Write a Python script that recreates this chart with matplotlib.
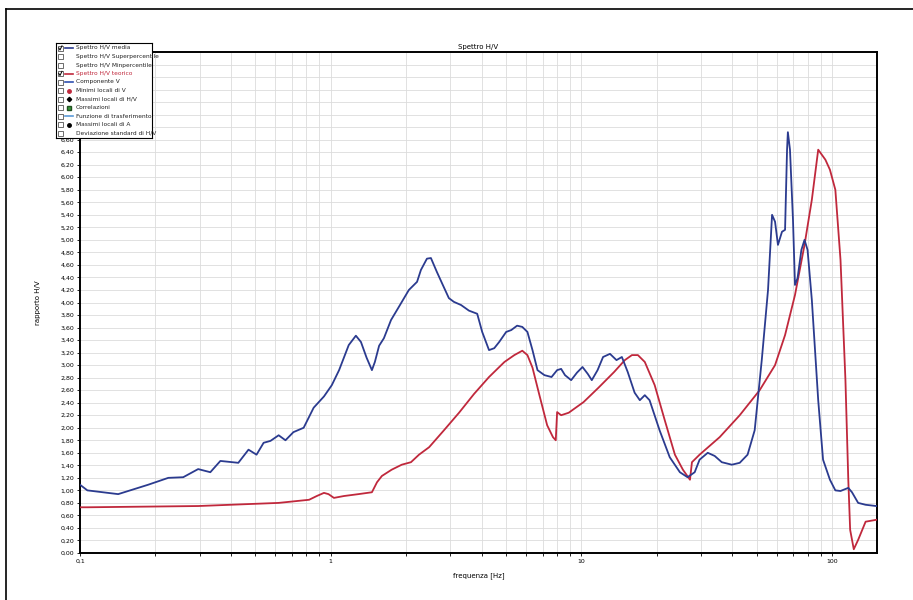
import matplotlib
matplotlib.use("Agg")
import matplotlib.pyplot as plt
from matplotlib.ticker import FixedLocator, NullFormatter
from matplotlib.patches import Rectangle

# ---- data -------------------------------------------------------------
freq_media = [0.1, 0.107, 0.142, 0.187, 0.225, 0.258, 0.296, 0.331, 0.363, 0.428, 0.47, 0.506,
              0.54, 0.575, 0.62, 0.66, 0.71, 0.78, 0.855, 0.94, 1.01, 1.08, 1.18, 1.26, 1.32,
              1.39, 1.46, 1.50, 1.56, 1.63, 1.74, 1.87, 2.05, 2.21, 2.29, 2.42, 2.51, 2.65,
              2.80, 2.96, 3.10, 3.31, 3.56, 3.84, 4.02, 4.28, 4.49, 4.70, 5.01, 5.25, 5.54,
              5.81, 6.09, 6.38, 6.68, 7.12, 7.6, 8.0, 8.3, 8.6, 9.1, 9.6, 10.1, 10.6, 11.0,
              11.6, 12.2, 13.0, 13.8, 14.5, 15.3, 16.3, 17.1, 17.9, 18.7, 20.5, 22.5, 24.7,
              26.5, 28.3, 29.6, 31.9, 34.0, 36.3, 39.8, 42.8, 46.0, 49.1, 52.4, 55.5, 57.6,
              59.2, 60.8, 63.1, 64.9, 66.1, 66.6, 67.9, 69.8, 71.1, 72.8, 75.4, 77.6, 79.8,
              83, 88, 92, 98, 103, 108, 116, 120, 127, 136, 150]
hv_media = [1.09, 1.0, 0.94, 1.09, 1.2, 1.21, 1.34, 1.29, 1.47, 1.44, 1.65, 1.57,
            1.76, 1.79, 1.88, 1.80, 1.93, 2.0, 2.32, 2.5, 2.68, 2.92, 3.32, 3.47, 3.37,
            3.12, 2.92, 3.05, 3.31, 3.43, 3.72, 3.93, 4.2, 4.33, 4.52, 4.7, 4.71, 4.49,
            4.28, 4.07, 4.01, 3.96, 3.87, 3.82, 3.53, 3.24, 3.27, 3.37, 3.53, 3.56, 3.63,
            3.61, 3.53, 3.24, 2.92, 2.84, 2.81, 2.92, 2.94, 2.84, 2.76, 2.88, 2.97, 2.86, 2.76,
            2.92, 3.13, 3.18, 3.08, 3.13, 2.89, 2.56, 2.44, 2.52, 2.44, 1.96, 1.53, 1.29,
            1.21, 1.29, 1.49, 1.60, 1.55, 1.45, 1.41, 1.44, 1.57, 1.96, 3.08, 4.2, 5.40,
            5.29, 4.92, 5.13, 5.16, 6.44, 6.72, 6.44, 5.32, 4.28, 4.39, 4.84, 5.0, 4.84,
            4.04, 2.44, 1.49, 1.17, 1.0, 0.99, 1.04, 0.97, 0.80, 0.77, 0.75]

freq_teo = [0.1, 0.107, 0.296, 0.62, 0.82, 0.88, 0.94, 0.98, 1.03, 1.13, 1.29, 1.46, 1.53,
            1.60, 1.75, 1.92, 2.09, 2.25, 2.47, 2.83, 3.25, 3.73, 4.28, 4.93, 5.40, 5.81,
            6.09, 6.38, 6.8, 7.3, 7.7, 7.9, 8.0, 8.3, 8.9, 10.2, 11.7, 13.5, 14.9, 15.9,
            16.8, 17.9, 19.6, 21.5, 23.6, 25.4, 27.1, 27.6, 29.6, 35.6, 42.8, 51.4, 59.2,
            64.9, 71.1, 77.6, 83, 88, 94, 98, 103, 108, 113, 116, 118, 122, 127, 136, 150]
hv_teo = [0.73, 0.73, 0.75, 0.80, 0.85, 0.91, 0.96, 0.94, 0.88, 0.91, 0.94, 0.97, 1.13,
          1.23, 1.33, 1.41, 1.45, 1.57, 1.69, 1.96, 2.24, 2.54, 2.81, 3.05, 3.16, 3.23,
          3.16, 2.96, 2.52, 2.04, 1.85, 1.80, 2.25, 2.20, 2.24, 2.41, 2.64, 2.89, 3.08, 3.16,
          3.16, 3.05, 2.68, 2.12, 1.57, 1.33, 1.17, 1.45, 1.57, 1.85, 2.20, 2.60, 3.0,
          3.48, 4.12, 4.92, 5.64, 6.44, 6.28, 6.12, 5.8, 4.68, 2.76, 1.17, 0.37, 0.06, 0.21, 0.50, 0.53]

y_ticks = [i * 0.2 for i in range(34)]
y_tick_labels = [f"{v:.2f}".replace(".", ",") for v in y_ticks]
y_grid_extra = [6.8 + i * 0.2 for i in range(7)]
x_ticks = [0.1, 1, 10, 100]
x_tick_labels = ["0,1", "1", "10", "100"]

legend_labels = ["Spettro H/V media", "Spettro H/V Superpercentile", "Spettro H/V Minpercentile",
                 "Spettro H/V teorico", "Componente V", "Minimi locali di V",
                 "Massimi locali di H/V", "Correlazioni", "Funzione di trasferimento",
                 "Massimi locali di A", "Deviazione standard di H/V"]
legend_checked = [True, False, False, True, False, False, False, False, False, False, False]

# ---- figure -----------------------------------------------------------
W, H = 913, 600
fig = plt.figure(figsize=(W / 100, H / 100), dpi=100)
fig.patch.set_facecolor("white")

# page frame lines (top and left)
fig.add_artist(plt.Line2D([6 / W, 6 / W], [0, 1 - 9 / H], color="black", lw=1.2, transform=fig.transFigure))
fig.add_artist(plt.Line2D([6 / W, 1], [1 - 9 / H, 1 - 9 / H], color="black", lw=1.2, transform=fig.transFigure))

ax = fig.add_axes([80 / W, 1 - 553 / H, (877 - 80) / W, (553 - 52) / H])
ax.set_xscale("log")
ax.set_xlim(0.1, 151)
ax.set_ylim(0, 8.0)

ax.plot(freq_media, hv_media, color="#2b3b8f", lw=1.3, zorder=4)
ax.plot(freq_teo, hv_teo, color="#c0283c", lw=1.3, zorder=3)

ax.set_yticks(y_ticks)
ax.set_yticklabels(y_tick_labels, fontsize=4.5)
ax.yaxis.set_minor_locator(FixedLocator(y_grid_extra))
ax.yaxis.set_minor_formatter(NullFormatter())
ax.set_xticks(x_ticks)
ax.set_xticklabels(x_tick_labels, fontsize=4.5)
minor = [m * 10.0 ** e for e in (-1, 0, 1, 2) for m in range(2, 10) if m * 10.0 ** e < 151]
ax.xaxis.set_minor_locator(FixedLocator(minor))
ax.xaxis.set_minor_formatter(NullFormatter())
ax.tick_params(axis="both", which="both", length=2, width=0.6, pad=2)

ax.grid(True, which="both", color="#dcdcdc", lw=0.6)
ax.set_axisbelow(True)
for s in ax.spines.values():
    s.set_linewidth(1.4)

ax.set_title("Spettro H/V", fontsize=5, pad=2)
ax.set_xlabel("frequenza [Hz]", fontsize=5, labelpad=6)
ax.set_ylabel("rapporto H/V", fontsize=5, labelpad=14)

# ---- legend (custom, drawn in pixel-like coords) ---------------------
lg = fig.add_axes([56 / W, 1 - 138 / H, (152 - 56) / W, (138 - 43) / H], zorder=10)
lg.set_xlim(0, 96)
lg.set_ylim(95, 0)
lg.set_xticks([])
lg.set_yticks([])
lg.set_facecolor("white")
for s in lg.spines.values():
    s.set_linewidth(0.8)

handle_styles = [
    ("line", "#2b3b8f"), (None, None), (None, None), ("line", "#c0283c"), ("line", "#3050b0"),
    ("circle", "#c0283c"), ("diamond", "black"), ("square", "#3a9a3a"), ("line", "#5a9ad8"),
    ("circle", "black"), (None, None)]
for i, (lab, chk, (kind, col)) in enumerate(zip(legend_labels, legend_checked, handle_styles)):
    yc = 5 + i * 8.5
    lg.add_patch(Rectangle((2, yc - 2.5), 4.5, 5, fill=False, lw=0.5, edgecolor="#333333"))
    if chk:
        lg.plot([2.8, 4, 6], [yc, yc + 2, yc - 2.2], color="black", lw=0.7)
    if kind == "line":
        lg.plot([9, 17], [yc, yc], color=col, lw=1.2)
    elif kind == "circle":
        lg.plot([13], [yc], marker="o", ms=2.5, color=col)
    elif kind == "diamond":
        lg.plot([13], [yc], marker="D", ms=2.2, color=col)
    elif kind == "square":
        lg.plot([13], [yc], marker="s", ms=3, color=col, mec="#205020")
    txt_col = "#c0283c" if i == 3 else "#222222"
    lg.text(20, yc, lab, fontsize=4.2, va="center", ha="left", color=txt_col)

fig.savefig("out.png", dpi=100)
